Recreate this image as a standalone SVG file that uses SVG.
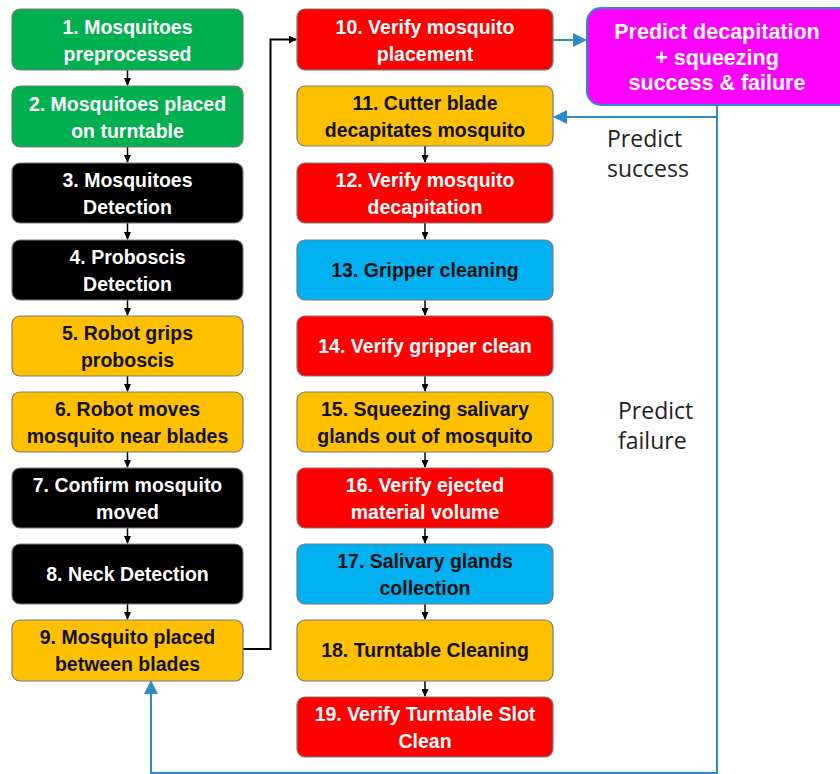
<svg xmlns="http://www.w3.org/2000/svg" width="840" height="774" viewBox="0 0 840 774">
<style>
.box{stroke:#7a7a7a;stroke-width:1.2}
.g{fill:#00B050}.r{fill:#FF0000}.o{fill:#FFC000}.k{fill:#000000}.b{fill:#00B0F0}.m{fill:#FF00FF;stroke:#2E8BC9;stroke-width:2}
text{font-family:"Liberation Sans",Arial,sans-serif;font-weight:bold;font-size:19.5px;text-anchor:middle}
.w{fill:#fff}.d{fill:#111}
.lbl{font-family:"Open Sans","Liberation Sans",sans-serif;font-weight:normal;font-size:23px;fill:#222;text-anchor:start}
.mt{font-family:"Liberation Sans",Arial,sans-serif;font-size:21.5px;fill:#fff}
.c{fill:none;stroke:#000;stroke-width:2}
.s{fill:none;stroke:#000;stroke-width:1.5}
.bl{fill:none;stroke:#2E8BC9;stroke-width:2}
</style>
<defs>
<marker id="ak" markerWidth="8" markerHeight="8" refX="7" refY="4" orient="auto" markerUnits="userSpaceOnUse"><path d="M0,0L8,4L0,8z" fill="#000"/></marker>
<marker id="as" markerWidth="8" markerHeight="7" refX="7" refY="3.5" orient="auto" markerUnits="userSpaceOnUse"><path d="M0,0L8,3.5L0,7z" fill="#000"/></marker>
<marker id="ab" markerWidth="14" markerHeight="14" refX="13" refY="7" orient="auto" markerUnits="userSpaceOnUse"><path d="M0,0L14,7L0,14z" fill="#2E8BC9"/></marker>
</defs>
<rect width="840" height="774" fill="#fff"/>
<g id="connectors">
<path class="s" d="M127.5,70V85" marker-end="url(#as)"/>
<path class="s" d="M127.5,146V162" marker-end="url(#as)"/>
<path class="s" d="M127.5,223V239" marker-end="url(#as)"/>
<path class="s" d="M127.5,299V315" marker-end="url(#as)"/>
<path class="s" d="M127.5,376V391" marker-end="url(#as)"/>
<path class="s" d="M127.5,452V467" marker-end="url(#as)"/>
<path class="s" d="M127.5,528V543" marker-end="url(#as)"/>
<path class="s" d="M127.5,604V619" marker-end="url(#as)"/>
<path class="s" d="M425,146V162" marker-end="url(#as)"/>
<path class="s" d="M425,223V239" marker-end="url(#as)"/>
<path class="s" d="M425,299V315" marker-end="url(#as)"/>
<path class="s" d="M425,376V391" marker-end="url(#as)"/>
<path class="s" d="M425,452V467" marker-end="url(#as)"/>
<path class="s" d="M425,528V543" marker-end="url(#as)"/>
<path class="s" d="M425,604V619" marker-end="url(#as)"/>
<path class="s" d="M425,681V696" marker-end="url(#as)"/>
<path class="c" d="M243,649H270.5V39.5H296" marker-end="url(#ak)"/>
<path class="bl" d="M553,40H586" marker-end="url(#ab)"/>
<path class="bl" d="M717,105V117H554" marker-end="url(#ab)"/>
<path class="bl" d="M717,117V773H151V681" marker-end="url(#ab)"/>
</g>
<g id="n1"><rect class="box g" x="12" y="9" width="231" height="61" rx="8"/><text class="w" x="127.5" y="34">1. Mosquitoes</text><text class="w" x="127.5" y="61">preprocessed</text></g>
<g id="n2"><rect class="box g" x="12" y="86" width="231" height="61" rx="8"/><text class="w" x="127.5" y="111">2. Mosquitoes placed</text><text class="w" x="127.5" y="138">on turntable</text></g>
<g id="n3"><rect class="box k" x="12" y="163" width="231" height="60" rx="8"/><text class="w" x="127.5" y="187">3. Mosquitoes</text><text class="w" x="127.5" y="214">Detection</text></g>
<g id="n4"><rect class="box k" x="12" y="240" width="231" height="60" rx="8"/><text class="w" x="127.5" y="264">4. Proboscis</text><text class="w" x="127.5" y="291">Detection</text></g>
<g id="n5"><rect class="box o" x="12" y="316" width="231" height="60" rx="8"/><text class="d" x="127.5" y="340">5. Robot grips</text><text class="d" x="127.5" y="367">proboscis</text></g>
<g id="n6"><rect class="box o" x="12" y="392" width="231" height="60" rx="8"/><text class="d" x="127.5" y="416">6. Robot moves</text><text class="d" x="127.5" y="443">mosquito near blades</text></g>
<g id="n7"><rect class="box k" x="12" y="468" width="231" height="60" rx="8"/><text class="w" x="127.5" y="492">7. Confirm mosquito</text><text class="w" x="127.5" y="519">moved</text></g>
<g id="n8"><rect class="box k" x="12" y="544" width="231" height="60" rx="8"/><text class="w" x="127.5" y="581">8. Neck Detection</text></g>
<g id="n9"><rect class="box o" x="12" y="620" width="231" height="61" rx="8"/><text class="d" x="127.5" y="644">9. Mosquito placed</text><text class="d" x="127.5" y="671">between blades</text></g>
<g id="n10"><rect class="box r" x="297" y="9" width="256" height="61" rx="8"/><text class="w" x="425" y="34">10. Verify mosquito</text><text class="w" x="425" y="61">placement</text></g>
<g id="n11"><rect class="box o" x="297" y="86" width="256" height="60" rx="8"/><text class="d" x="425" y="110">11. Cutter blade</text><text class="d" x="425" y="137">decapitates mosquito</text></g>
<g id="n12"><rect class="box r" x="297" y="163" width="256" height="60" rx="8"/><text class="w" x="425" y="187">12. Verify mosquito</text><text class="w" x="425" y="214">decapitation</text></g>
<g id="n13"><rect class="box b" x="297" y="240" width="256" height="60" rx="8"/><text class="d" x="425" y="277">13. Gripper cleaning</text></g>
<g id="n14"><rect class="box r" x="297" y="316" width="256" height="60" rx="8"/><text class="w" x="425" y="353">14. Verify gripper clean</text></g>
<g id="n15"><rect class="box o" x="297" y="392" width="256" height="60" rx="8"/><text class="d" x="425" y="416">15. Squeezing salivary</text><text class="d" x="425" y="443">glands out of mosquito</text></g>
<g id="n16"><rect class="box r" x="297" y="468" width="256" height="60" rx="8"/><text class="w" x="425" y="492">16. Verify ejected</text><text class="w" x="425" y="519">material volume</text></g>
<g id="n17"><rect class="box b" x="297" y="544" width="256" height="60" rx="8"/><text class="d" x="425" y="568">17. Salivary glands</text><text class="d" x="425" y="595">collection</text></g>
<g id="n18"><rect class="box o" x="297" y="620" width="256" height="61" rx="8"/><text class="d" x="425" y="657">18. Turntable Cleaning</text></g>
<g id="n19"><rect class="box r" x="297" y="697" width="256" height="60" rx="8"/><text class="w" x="425" y="721">19. Verify Turntable Slot</text><text class="w" x="425" y="748">Clean</text></g>
<g id="predict"><rect class="m" x="587" y="8" width="265" height="97" rx="14"/><text class="mt" x="717" y="39">Predict decapitation</text><text class="mt" x="717" y="65">+ squeezing</text><text class="mt" x="717" y="90">success &amp; failure</text></g>
<g id="labels"><text class="lbl" x="607" y="147">Predict</text><text class="lbl" x="607" y="177">success</text><text class="lbl" x="618" y="419">Predict</text><text class="lbl" x="618" y="449">failure</text></g>
</svg>
